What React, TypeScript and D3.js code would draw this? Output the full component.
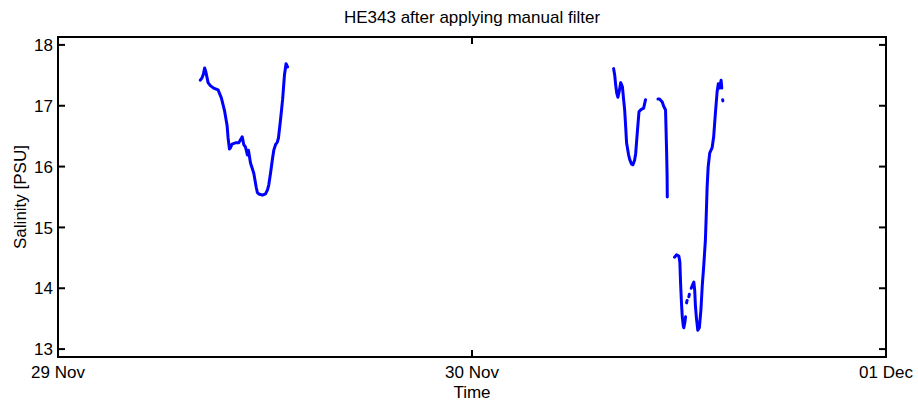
import React from "react";
import * as d3 from "d3";

// Time in hours since 29 Nov 00:00; NaN marks a gap in the record
const hoursA = [8.25, 8.35, 8.43, 8.5, 8.57, 8.7, 8.83, 9.02, 9.28, 9.47, 9.66, 9.8, 9.86, 9.94, 10.0, 10.09, 10.29, 10.48, 10.58, 10.68, 10.77, 10.87, 10.98, 11.04, 11.16, 11.35, 11.49, 11.56, 11.64, 11.85, 12.03, 12.15, 12.22, 12.32, 12.44, 12.51, 12.61, 12.71, 12.78, 12.9, 13.02, 13.13, 13.22, 13.31];
const salinityA = [17.42, 17.46, 17.52, 17.62, 17.56, 17.38, 17.33, 17.29, 17.26, 17.13, 16.91, 16.68, 16.47, 16.29, 16.31, 16.37, 16.39, 16.39, 16.44, 16.49, 16.36, 16.32, 16.19, 16.27, 16.06, 15.89, 15.66, 15.57, 15.55, 15.53, 15.55, 15.62, 15.7, 15.89, 16.14, 16.27, 16.36, 16.4, 16.47, 16.77, 17.1, 17.51, 17.69, 17.64];

const hoursB = [32.21, 32.27, 32.33, 32.39, 32.46, 32.53, 32.62, 32.72, 32.79, 32.85, 32.91, 32.96, 33.08, 33.15, 33.25, 33.33, 33.43, 33.49, 33.58, 33.68, 33.77, 33.87, 33.95, 34.06, NaN,
  34.78, 34.87, 35.03, 35.1, 35.22, 35.28, 35.31, 35.32, NaN,
  35.74, 35.86, 35.99, 36.05, 36.09, 36.15, 36.19, 36.25, 36.28, 36.34, 36.38, NaN,
  36.44, 36.47, NaN, 36.57, 36.6, NaN, 36.71, 36.78, 36.86, 36.91, 36.95, 37.01, 37.09, 37.18, 37.27, 37.35, 37.43, 37.53, 37.59, 37.63, 37.69, 37.78, 37.92, 38.01, 38.11, 38.21, 38.28, 38.36, 38.44, 38.48, NaN,
  38.53, 38.54];
const salinityB = [17.61, 17.51, 17.34, 17.21, 17.14, 17.23, 17.38, 17.31, 17.1, 16.93, 16.65, 16.39, 16.19, 16.11, 16.04, 16.03, 16.11, 16.22, 16.55, 16.9, 16.93, 16.95, 16.96, 17.1, NaN,
  17.11, 17.11, 17.06, 17.0, 16.93, 16.27, 15.86, 15.5, NaN,
  14.51, 14.55, 14.53, 14.43, 14.09, 13.72, 13.53, 13.38, 13.35, 13.44, 13.53, NaN,
  13.76, 13.8, NaN, 13.86, 13.9, NaN, 14.0, 14.05, 14.1, 13.97, 13.72, 13.51, 13.31, 13.35, 13.64, 14.05, 14.35, 14.79, 15.29, 15.66, 15.99, 16.22, 16.31, 16.49, 16.88, 17.23, 17.36, 17.29, 17.42, 17.29, NaN,
  17.1, 17.08];

const xTickHours = [0, 24, 48];
const xTickLabels = ["29 Nov", "30 Nov", "01 Dec"];
const yTicks = [13, 14, 15, 16, 17, 18];

const W = 918, H = 406;
const L = 58, R = 886, T = 37, B = 357;
const FONT = "'Liberation Sans', Arial, Helvetica, sans-serif";

export default function App() {
  const x = d3.scaleLinear().domain([0, 48]).range([L, R]);
  const y = d3.scaleLinear().domain([12.87, 18.13]).range([B, T]);
  const line = d3.line<[number, number]>()
    .defined(d => !isNaN(d[0]) && !isNaN(d[1]))
    .x(d => x(d[0]))
    .y(d => y(d[1]));
  const segA: [number, number][] = hoursA.map((h, i) => [h, salinityA[i]]);
  const segB: [number, number][] = hoursB.map((h, i) => [h, salinityB[i]]);
  const tl = 7;
  return (
    <svg width={W} height={H} style={{ position: "absolute", left: 0, top: 0, background: "#fff" }} fontFamily={FONT}>
      <rect x={0} y={0} width={W} height={H} fill="#fff" />
      <text x={(L + R) / 2} y={23} textAnchor="middle" fontSize={17}>HE343 after applying manual filter</text>
      <g fill="none" stroke="#0000ff" strokeWidth={3} strokeLinejoin="round" strokeLinecap="round">
        <path d={line(segA) || ""} />
        <path d={line(segB) || ""} />
      </g>
      <g stroke="#000" strokeWidth={2}>
        {yTicks.map(v => (
          <g key={v}>
            <line x1={L} x2={L + tl} y1={y(v)} y2={y(v)} />
            <line x1={R} x2={R - tl} y1={y(v)} y2={y(v)} />
          </g>
        ))}
        {xTickHours.map(h => (
          <g key={h}>
            <line x1={x(h)} x2={x(h)} y1={B} y2={B - tl} />
            <line x1={x(h)} x2={x(h)} y1={T} y2={T + tl} />
          </g>
        ))}
        <rect x={L} y={T} width={R - L} height={B - T} fill="none" />
      </g>
      {yTicks.map(v => (
        <text key={v} x={L - 5} y={y(v)} dy="0.36em" textAnchor="end" fontSize={17}>{v}</text>
      ))}
      {xTickHours.map((h, i) => (
        <text key={h} x={x(h)} y={378} textAnchor="middle" fontSize={17}>{xTickLabels[i]}</text>
      ))}
      <text x={(L + R) / 2} y={398} textAnchor="middle" fontSize={17}>Time</text>
      <text transform={`translate(26,${(T + B) / 2}) rotate(-90)`} textAnchor="middle" fontSize={17}>Salinity [PSU]</text>
    </svg>
  );
}
